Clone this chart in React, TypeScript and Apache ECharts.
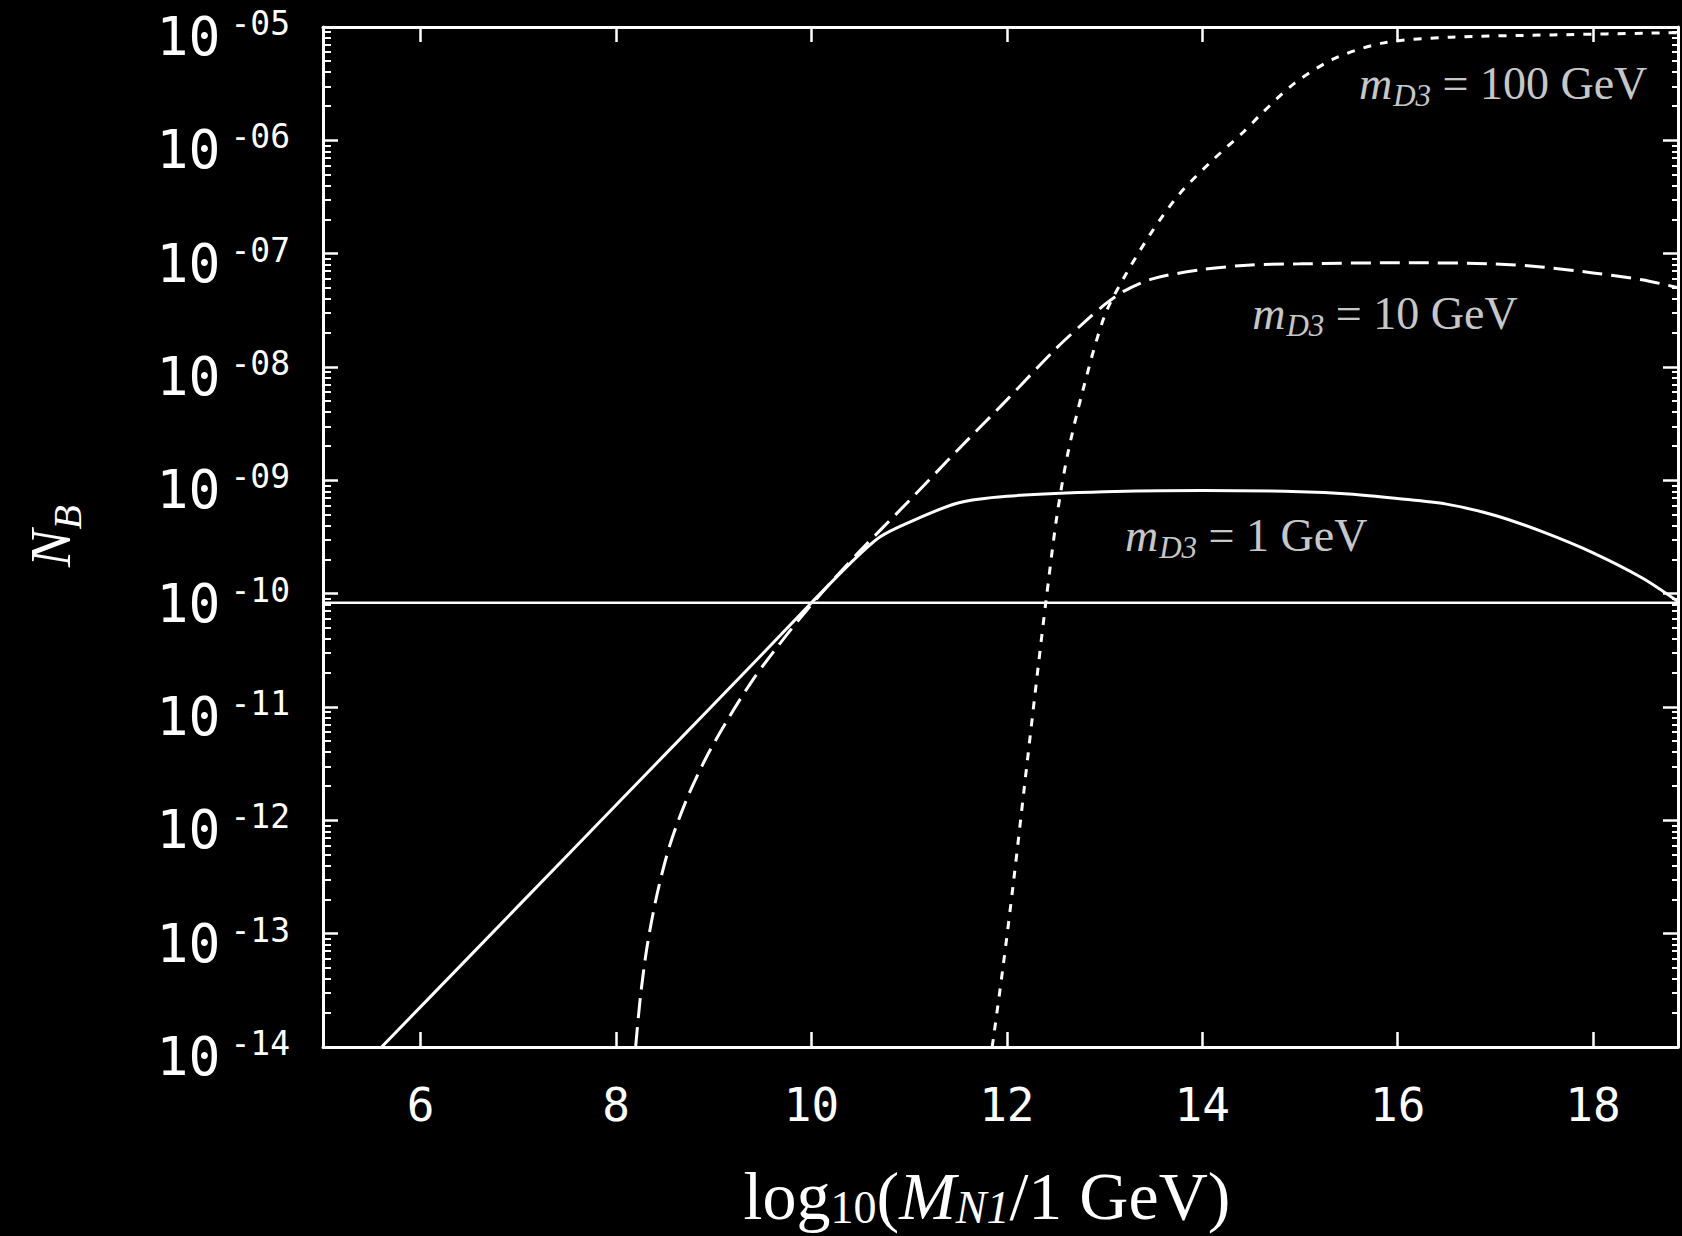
import React, { useEffect, useRef } from "react";
import * as echarts from "echarts";

// ---------- data (x = log10(M_N1 / 1 GeV), y = log10(N_B)) ----------
const xRange = [5, 18.87];
const yRange = [-14, -5];
const xTickValues = [6, 8, 10, 12, 14, 16, 18];
const yTickExponents = [-14, -13, -12, -11, -10, -9, -8, -7, -6, -5];

// m_D3 = 1 GeV (solid)
const x1GeV = [5.6, 6.5, 7.5, 8.5, 9.5, 10.0, 10.4, 10.7, 11.0, 11.5, 12.0, 13.0, 14.0, 15.0, 15.5, 16.0, 16.5, 17.0, 17.5, 18.0, 18.5, 18.87];
const logNB1GeV = [-14.0, -13.2, -12.31, -11.42, -10.53, -10.08, -9.73, -9.5, -9.37, -9.2, -9.14, -9.1, -9.09, -9.1, -9.12, -9.16, -9.21, -9.31, -9.46, -9.64, -9.86, -10.07];

// m_D3 = 10 GeV (long dashes)
const x10GeV = [8.2, 8.25, 8.32, 8.42, 8.55, 8.72, 8.92, 9.15, 9.4, 9.65, 9.9, 10.2, 10.5, 11.0, 11.5, 12.0, 12.5, 12.8, 13.0, 13.2, 13.5, 14.0, 14.5, 15.0, 16.0, 17.0, 17.5, 18.0, 18.5, 18.87];
const logNB10GeV = [-14.0, -13.55, -13.1, -12.65, -12.22, -11.82, -11.45, -11.1, -10.76, -10.47, -10.2, -9.9, -9.62, -9.18, -8.73, -8.29, -7.84, -7.6, -7.45, -7.33, -7.22, -7.14, -7.1, -7.09, -7.08, -7.09, -7.12, -7.17, -7.23, -7.3];

// m_D3 = 100 GeV (short dashes)
const x100GeV = [11.85, 11.96, 12.07, 12.18, 12.32, 12.4, 12.51, 12.62, 12.78, 13.0, 13.22, 13.49, 13.77, 14.1, 14.43, 14.6, 14.94, 15.35, 15.86, 16.55, 17.57, 18.87];
const logNB100GeV = [-14.0, -13.3, -12.53, -11.7, -10.65, -10.07, -9.33, -8.78, -8.2, -7.55, -7.18, -6.8, -6.47, -6.18, -5.92, -5.77, -5.5, -5.28, -5.14, -5.09, -5.07, -5.05];

// observed value (horizontal line)
const xObserved = [5, 18.87];
const logNBObserved = [-10.08, -10.08];

// curve annotations
const annotationMasses = ["100 GeV", "10 GeV", "1 GeV"];
const annotationX = [17.08, 15.87, 14.45];
const annotationY = [-5.45, -7.48, -9.44];

const zip = (xs: number[], ys: number[]) => xs.map((x, i) => [x, ys[i]]);

const minorTickValues: number[] = [];
for (let d = -14; d < -5; d++) {
  for (let k = 2; k <= 9; k++) minorTickValues.push(d + Math.log10(k));
}

const MONO = "DejaVu Sans Mono";
const SERIF = "Liberation Serif";

export default function App() {
  const ref = useRef<HTMLDivElement>(null);

  useEffect(() => {
    if (!ref.current) return;
    const chart = echarts.init(ref.current, null, { renderer: "svg" });

    const axisLine = { show: true, lineStyle: { color: "#fff", width: 3 } };

    const option: any = {
      animation: false,
      backgroundColor: "#000",
      grid: { left: 323, right: 4, top: 27, bottom: 189, containLabel: false, outerBoundsMode: "none" },
      xAxis: [
        {
          type: "value",
          position: "bottom",
          min: xRange[0],
          max: xRange[1],
          axisLine,
          axisTick: { show: true, inside: true, length: 15, customValues: xTickValues, lineStyle: { color: "#fff", width: 2.5 } },
          axisLabel: {
            show: true,
            customValues: xTickValues,
            color: "#fff",
            fontFamily: MONO,
            fontSize: 46,
            margin: 35,
            formatter: (v: number) => String(Math.round(v)),
          },
          splitLine: { show: false },
        },
        {
          type: "value",
          position: "top",
          min: xRange[0],
          max: xRange[1],
          axisLine,
          axisTick: { show: true, inside: true, length: 15, customValues: xTickValues, lineStyle: { color: "#fff", width: 2.5 } },
          axisLabel: { show: false },
          splitLine: { show: false },
        },
      ],
      yAxis: [
        {
          type: "value",
          position: "left",
          min: yRange[0],
          max: yRange[1],
          interval: 1,
          axisLine,
          axisTick: { show: true, inside: true, length: 15, customValues: yTickExponents, lineStyle: { color: "#fff", width: 2.5 } },
          axisLabel: {
            show: true,
            customValues: yTickExponents,
            margin: 33,
            color: "#fff",
            formatter: (v: number) => {
              const e = Math.round(v);
              const s = (e < 0 ? "-" : "") + String(Math.abs(e)).padStart(2, "0");
              return `{b|10}{e|${s}}`;
            },
            rich: {
              b: { fontFamily: MONO, fontSize: 53, lineHeight: 72, color: "#fff", verticalAlign: "bottom" },
              e: { fontFamily: MONO, fontSize: 33, lineHeight: 33, color: "#fff", padding: [16, 0, 0, 10], verticalAlign: "top" },
            },
          },
          splitLine: { show: false },
        },
        {
          type: "value",
          position: "left",
          min: yRange[0],
          max: yRange[1],
          axisLine: { show: false },
          axisTick: { show: true, inside: true, length: 8, customValues: minorTickValues, lineStyle: { color: "#fff", width: 2 } },
          axisLabel: { show: false },
          splitLine: { show: false },
        },
        {
          type: "value",
          position: "right",
          min: yRange[0],
          max: yRange[1],
          axisLine,
          axisTick: { show: true, inside: true, length: 15, customValues: yTickExponents, lineStyle: { color: "#fff", width: 2.5 } },
          axisLabel: { show: false },
          splitLine: { show: false },
        },
        {
          type: "value",
          position: "right",
          min: yRange[0],
          max: yRange[1],
          axisLine: { show: false },
          axisTick: { show: true, inside: true, length: 6, customValues: minorTickValues, lineStyle: { color: "#fff", width: 2 } },
          axisLabel: { show: false },
          splitLine: { show: false },
        },
      ],
      series: [
        {
          name: "observed",
          type: "line",
          data: zip(xObserved, logNBObserved),
          showSymbol: false,
          lineStyle: { color: "#fff", width: 2.5, type: "solid" },
        },
        {
          name: "m_D3 = 1 GeV",
          type: "line",
          data: zip(x1GeV, logNB1GeV),
          showSymbol: false,
          smooth: 0.3,
          lineStyle: { color: "#fff", width: 3, type: "solid" },
        },
        {
          name: "m_D3 = 10 GeV",
          type: "line",
          data: zip(x10GeV, logNB10GeV),
          showSymbol: false,
          smooth: 0.3,
          lineStyle: { color: "#fff", width: 3, type: [20, 9] },
        },
        {
          name: "m_D3 = 100 GeV",
          type: "line",
          data: zip(x100GeV, logNB100GeV),
          showSymbol: false,
          smooth: 0.3,
          lineStyle: { color: "#fff", width: 3, type: [8, 9] },
        },
        {
          name: "annotations",
          type: "scatter",
          symbolSize: 0,
          silent: true,
          data: annotationMasses.map((m, i) => ({
            value: [annotationX[i], annotationY[i]],
            label: { formatter: `{m|m}{d|D3}{t| = ${m}}` },
          })),
          label: {
            show: true,
            position: "inside",
            offset: [0, 5],
            rich: {
              m: { fontFamily: SERIF, fontStyle: "italic", fontSize: 46, lineHeight: 46, color: "#fff", verticalAlign: "top" },
              d: { fontFamily: SERIF, fontStyle: "italic", fontSize: 31, lineHeight: 31, color: "#fff", padding: [20, 0, 0, 1], verticalAlign: "top" },
              t: { fontFamily: SERIF, fontSize: 46, lineHeight: 46, color: "#fff", verticalAlign: "top" },
            },
          },
        },
      ],
      graphic: [
        {
          type: "text",
          x: 987,
          y: 1196,
          silent: true,
          style: {
            text: "{r|log}{s|10}{r|(}{i|M}{si|N1}{r|/1 GeV)}",
            align: "center",
            verticalAlign: "middle",
            fill: "#fff",
            rich: {
              r: { fontFamily: SERIF, fontSize: 68, lineHeight: 68, fill: "#fff", verticalAlign: "top" },
              s: { fontFamily: SERIF, fontSize: 46, lineHeight: 46, fill: "#fff", padding: [22, 0, 0, 0], verticalAlign: "top" },
              i: { fontFamily: SERIF, fontStyle: "italic", fontSize: 68, lineHeight: 68, fill: "#fff", verticalAlign: "top" },
              si: { fontFamily: SERIF, fontStyle: "italic", fontSize: 46, lineHeight: 46, fill: "#fff", padding: [22, 0, 0, 0], verticalAlign: "top" },
            },
          },
        },
        {
          type: "text",
          x: 51,
          y: 536,
          rotation: Math.PI / 2,
          silent: true,
          style: {
            text: "{i|N}{s|B}",
            align: "center",
            verticalAlign: "middle",
            fill: "#fff",
            rich: {
              i: { fontFamily: SERIF, fontStyle: "italic", fontSize: 56, lineHeight: 56, fill: "#fff", verticalAlign: "top" },
              s: { fontFamily: SERIF, fontStyle: "italic", fontSize: 40, lineHeight: 40, fill: "#fff", padding: [24, 0, 0, 0], verticalAlign: "top" },
            },
          },
        },
      ],
    };

    chart.setOption(option);
    return () => chart.dispose();
  }, []);

  return (
    <div
      ref={ref}
      style={{ position: "fixed", left: 0, top: 0, width: 1682, height: 1236, background: "#000" }}
    />
  );
}
